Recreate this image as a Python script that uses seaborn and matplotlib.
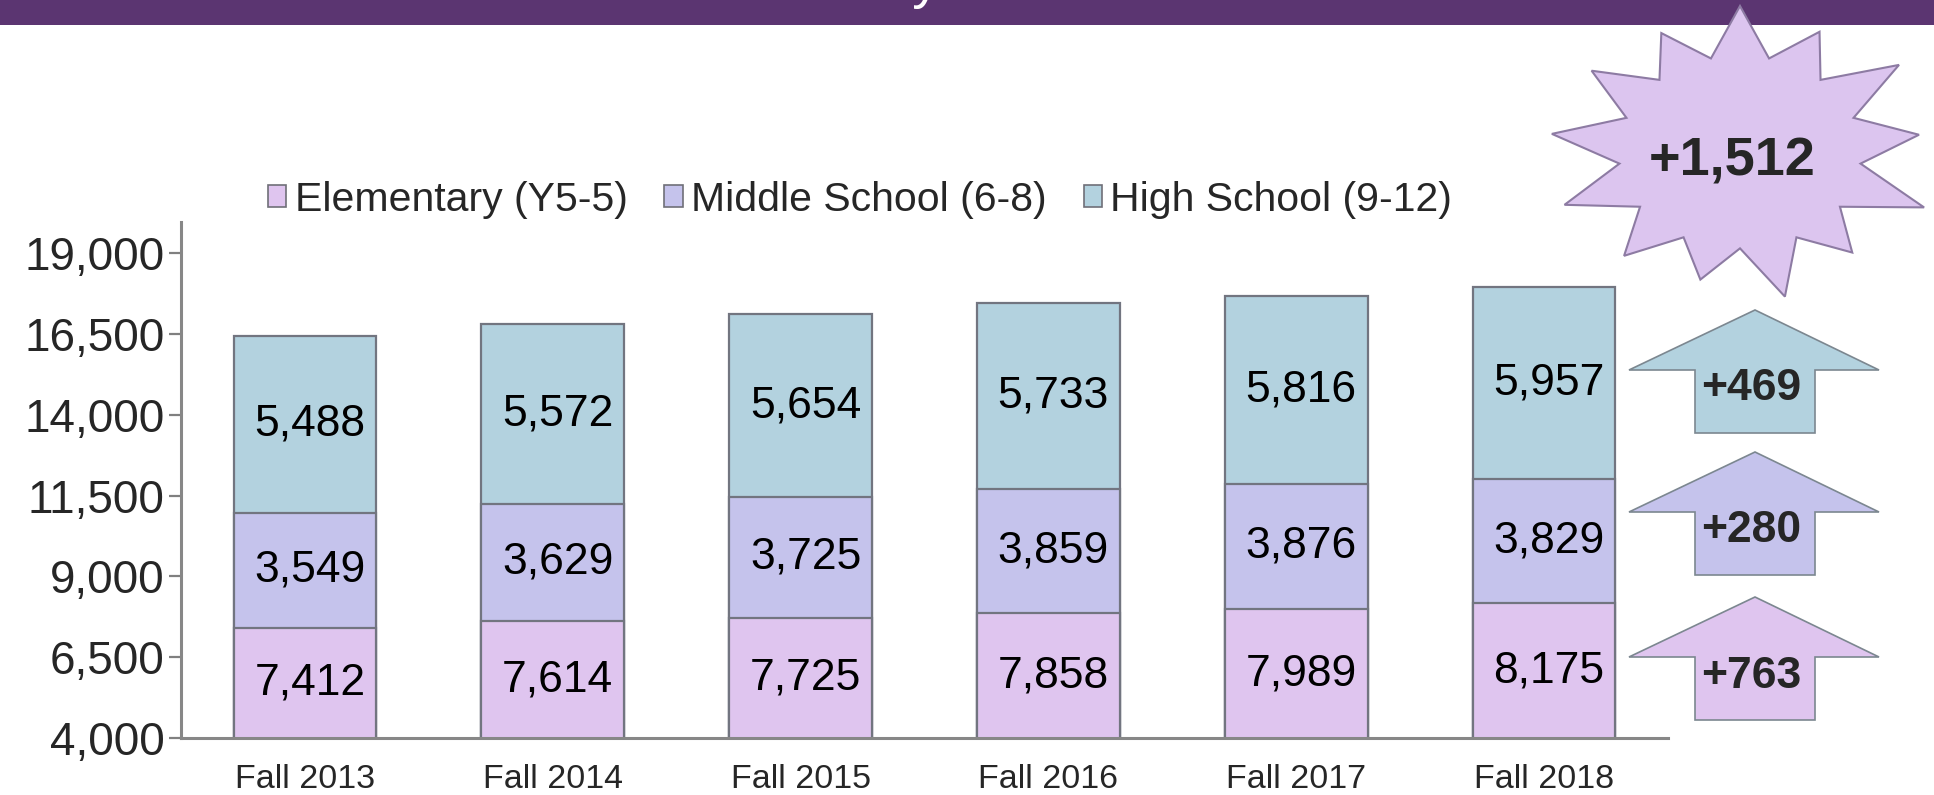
import numpy as np
import pandas as pd
import matplotlib
matplotlib.use("Agg")
import matplotlib.pyplot as plt
from matplotlib.patches import Polygon, Rectangle, Patch
import seaborn as sns

# enrollment by school level
years = ["Fall 2013", "Fall 2014", "Fall 2015", "Fall 2016", "Fall 2017", "Fall 2018"]
elementary = [7412, 7614, 7725, 7858, 7989, 8175]
middle = [3549, 3629, 3725, 3859, 3876, 3829]
high = [5488, 5572, 5654, 5733, 5816, 5957]
levels = ["Elementary (Y5-5)", "Middle School (6-8)", "High School (9-12)"]
colors = ["#DFC5EF", "#C5C3EC", "#B3D2DF"]
y_ticks = [4000, 6500, 9000, 11500, 14000, 16500, 19000]

W, H = 1934, 795
sns.set_style("white")
plt.rcParams["font.family"] = ["Liberation Sans", "DejaVu Sans"]

df = pd.DataFrame({"year": years, "elem": elementary, "mid": middle, "high": high})
df["mid_top"] = df["elem"] + df["mid"]
df["high_top"] = df["mid_top"] + df["high"]

fig = plt.figure(figsize=(W / 100, H / 100), dpi=100)
ax = fig.add_axes([181 / W, 1 - 738 / H, (1668 - 181) / W, (738 - 222) / H])

# stacked bars: draw cumulative totals back to front
for col, c in zip(["high_top", "mid_top", "elem"], colors[::-1]):
    sns.barplot(data=df, x="year", y=col, color=c, width=0.575, saturation=1,
                edgecolor="#727580", linewidth=1.6, errorbar=None, ax=ax)

ylo, yhi = 4000, 19960
ax.set_ylim(ylo, yhi)
for i in range(len(years)):
    bottoms = [0, df["elem"][i], df["mid_top"][i]]
    tops = [df["elem"][i], df["mid_top"][i], df["high_top"][i]]
    vals = [elementary[i], middle[i], high[i]]
    for b, t, v in zip(bottoms, tops, vals):
        ax.text(i + 0.02, (max(b, ylo) + t) / 2, f"{v:,}", ha="center", va="center",
                fontsize=32, color="black")

ax.set_yticks(y_ticks)
ax.set_yticklabels([f"{t:,}" for t in y_ticks])
ax.set_xlabel("")
ax.set_ylabel("")
ax.tick_params(axis="y", length=9, width=1.6, color="#808080", labelsize=33, pad=3, left=True)
ax.tick_params(axis="x", length=0, labelsize=24.5, pad=19)
sns.despine(ax=ax)
for s in ["left", "bottom"]:
    ax.spines[s].set_color("#878787")
    ax.spines[s].set_linewidth(2.2)

handles = [Patch(facecolor=c, edgecolor="#6f6f78", linewidth=1.2) for c in colors]
fig.legend(handles, levels, loc="center", bbox_to_anchor=(860 / W, 1 - 200 / H), ncol=3,
           frameon=False, fontsize=29.5, handlelength=0.45, handleheight=0.45,
           handletextpad=0.2, columnspacing=0.9)

# header band with the title mostly above the page edge
fig.add_artist(Rectangle((0, 1 - 25 / H), 1, 25 / H, transform=fig.transFigure,
                         facecolor="#5B3571", edgecolor="none", zorder=0))
fig.text(940 / W, 1 + 3 / H, "Enrollment History", color="white", fontsize=40,
         ha="right", va="baseline")


def to_fig(pts):
    return [(x / W, 1 - y / H) for x, y in pts]


# starburst with total growth
total_growth = df["high_top"].iloc[-1] - df["high_top"].iloc[0]
cx, cy, rx, ry = 1740, 152, 184, 146
jitter = [1.0, 0.93, 1.05, 0.98, 1.07, 0.92, 1.02, 0.9, 0.95, 1.02, 1.03, 0.98, 0.92]
n = len(jitter)
star = []
for k in range(n):
    a = np.pi / 2 - 2 * np.pi * k / n
    star.append((cx + rx * jitter[k] * np.cos(a), cy - ry * jitter[k] * np.sin(a)))
    a2 = a - np.pi / n
    star.append((cx + rx * 0.66 * np.cos(a2), cy - ry * 0.66 * np.sin(a2)))
fig.add_artist(Polygon(to_fig(star), closed=True, transform=fig.transFigure,
                       facecolor="#DCC5EF", edgecolor="#8D7BA3", linewidth=1.5, zorder=5))
fig.text(1732 / W, 1 - 162 / H, f"+{total_growth:,}", fontsize=39, weight="bold",
         ha="center", va="center", zorder=6)

# growth arrows per level (Fall 2013 -> Fall 2018)
growth = [high[-1] - high[0], middle[-1] - middle[0], elementary[-1] - elementary[0]]
arrow_cols = [colors[2], colors[1], colors[0]]
arrow_tops = [310, 452, 597]
for g, c, top in zip(growth, arrow_cols, arrow_tops):
    x0 = 1755
    base, bottom = top + 60, top + 123
    pts = [(x0, top), (x0 + 124, base), (x0 + 60, base), (x0 + 60, bottom),
           (x0 - 60, bottom), (x0 - 60, base), (x0 - 126, base)]
    fig.add_artist(Polygon(to_fig(pts), closed=True, transform=fig.transFigure,
                           facecolor=c, edgecolor="#7c8790", linewidth=1.2, zorder=5))
    fig.text((x0 - 4) / W, 1 - (base + 19) / H, f"+{g:,}", fontsize=32, weight="bold",
             ha="center", va="center", zorder=6)

fig.savefig("out.png", dpi=100)
